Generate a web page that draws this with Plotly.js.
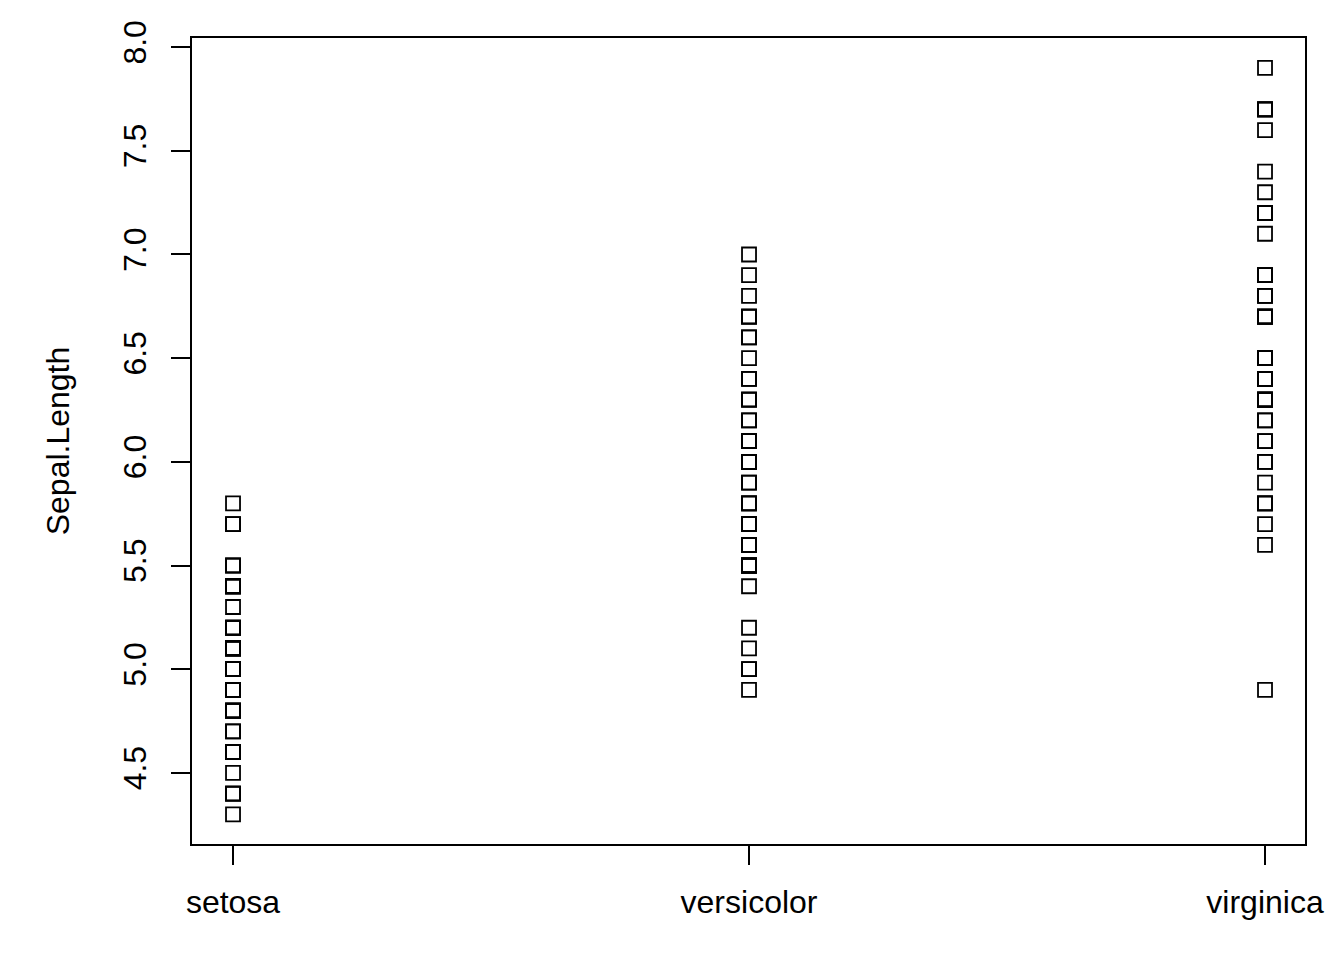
<!DOCTYPE html>
<html>
<head>
<meta charset="utf-8">
<script src="https://cdn.plot.ly/plotly-3.0.1.min.js"></script>
<style>html,body{margin:0;padding:0;background:#fff;}#chart{width:1344px;height:960px;}</style>
</head>
<body>
<div id="chart"></div>
<script>
const species = ["setosa", "versicolor", "virginica"];
const setosa = [5.1,4.9,4.7,4.6,5.0,5.4,4.6,5.0,4.4,4.9,5.4,4.8,4.8,4.3,5.8,5.7,5.4,5.1,5.7,5.1,5.4,5.1,4.6,5.1,4.8,5.0,5.0,5.2,5.2,4.7,4.8,5.4,5.2,5.5,4.9,5.0,5.5,4.9,4.4,5.1,5.0,4.5,4.4,5.0,5.1,4.8,5.1,4.6,5.3,5.0];
const versicolor = [7.0,6.4,6.9,5.5,6.5,5.7,6.3,4.9,6.6,5.2,5.0,5.9,6.0,6.1,5.6,6.7,5.6,5.8,6.2,5.6,5.9,6.1,6.3,6.1,6.4,6.6,6.8,6.7,6.0,5.7,5.5,5.5,5.8,6.0,5.4,6.0,6.7,6.3,5.6,5.5,5.5,6.1,5.8,5.0,5.6,5.7,5.7,6.2,5.1,5.7];
const virginica = [6.3,5.8,7.1,6.3,6.5,7.6,4.9,7.3,6.7,7.2,6.5,6.4,6.8,5.7,5.8,6.4,6.5,7.7,7.7,6.0,6.9,5.6,7.7,6.3,6.7,7.2,6.2,6.1,6.4,7.2,7.4,7.9,6.4,6.3,6.1,7.7,6.3,6.4,6.0,6.9,6.7,6.9,5.8,6.8,6.7,6.7,6.3,6.5,6.2,5.9];
const yTicks = [4.5, 5.0, 5.5, 6.0, 6.5, 7.0, 7.5, 8.0];
const yTickText = ["4.5", "5.0", "5.5", "6.0", "6.5", "7.0", "7.5", "8.0"];
const yTitle = "Sepal.Length";

const groups = [setosa, versicolor, virginica];
const traces = groups.map((vals, i) => ({
  type: "scatter",
  mode: "markers",
  x: vals.map(() => species[i]),
  y: vals,
  marker: {symbol: "square-open", size: 14, color: "#000", line: {width: 1.8, color: "#000"}},
  hoverinfo: "x+y",
  showlegend: false
}));

const font = {family: "Liberation Sans, Arial, sans-serif", size: 32, color: "#000"};
const layout = {
  width: 1344, height: 960,
  margin: {l: 192, r: 39, t: 38, b: 116},
  paper_bgcolor: "#fff", plot_bgcolor: "#fff",
  font: font,
  xaxis: {
    type: "category", categoryorder: "array", categoryarray: species,
    range: [-0.0795, 2.0775],
    showgrid: false, zeroline: false,
    showline: true, mirror: true, linecolor: "#000", linewidth: 2,
    ticks: "outside", ticklen: 19, tickwidth: 2, tickcolor: "#000",
    ticklabelstandoff: 10,
    tickfont: font, automargin: false
  },
  yaxis: {
    range: [4.157, 8.044],
    tickvals: yTicks, ticktext: yTickText, tickangle: -90,
    showgrid: false, zeroline: false,
    showline: true, mirror: true, linecolor: "#000", linewidth: 2,
    ticks: "outside", ticklen: 19, tickwidth: 2, tickcolor: "#000",
    ticklabelstandoff: 12,
    tickfont: font, automargin: false,
    title: {text: yTitle, font: font, standoff: 38}
  }
};
Plotly.newPlot("chart", traces, layout, {displayModeBar: false, staticPlot: true});
</script>
</body>
</html>
